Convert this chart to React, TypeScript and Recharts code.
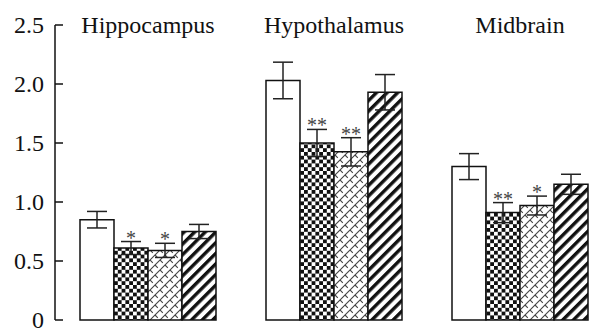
import { BarChart, Bar, XAxis, YAxis, ErrorBar, LabelList } from "recharts";

const regions = ["Hippocampus", "Hypothalamus", "Midbrain"];

const control = [0.85, 2.03, 1.3];
const controlErr = [0.07, 0.155, 0.11];
const checkered = [0.61, 1.5, 0.91];
const checkeredErr = [0.055, 0.115, 0.085];
const lattice = [0.59, 1.425, 0.97];
const latticeErr = [0.06, 0.12, 0.08];
const striped = [0.75, 1.93, 1.15];
const stripedErr = [0.06, 0.15, 0.085];

const checkeredStars = ["*", "**", "**"];
const latticeStars = ["*", "**", "*"];

const yTicks = [0, 0.5, 1.0, 1.5, 2.0, 2.5];

const data = regions.map((name, i) => ({
  name,
  control: control[i],
  controlErr: controlErr[i],
  checkered: checkered[i],
  checkeredErr: checkeredErr[i],
  lattice: lattice[i],
  latticeErr: latticeErr[i],
  striped: striped[i],
  stripedErr: stripedErr[i],
}));

const FONT = "Liberation Serif, Times New Roman, serif";

const YTick = ({ x, y, payload }: any) => (
  <g>
    <line x1={x + 11} x2={x + 19} y1={y} y2={y} stroke="#111" strokeWidth={1.5} />
    <text x={x} y={y} dy="0.33em" textAnchor="end" style={{ fontFamily: FONT, fontSize: 24 }} fill="#111">
      {payload.value === 0 ? "0" : payload.value.toFixed(1)}
    </text>
  </g>
);

const TopTick = ({ x, y, payload }: any) => (
  <text x={x} y={y} dy="0.33em" textAnchor="middle" style={{ fontFamily: FONT, fontSize: 24 }} fill="#111">
    {payload.value}
  </text>
);

// asterisks sit just above the upper whisker
const stars = (marks: string[], errs: number[]) => (props: any) => {
  const { x, y, width, height, value, index } = props;
  const mark = marks[index];
  if (!mark) return null;
  const errTop = y - (errs[index] * height) / value;
  return (
    <text x={x + width / 2} y={errTop + 3} textAnchor="middle" style={{ fontFamily: FONT, fontSize: 20 }} fill="#444">
      {mark}
    </text>
  );
};

const err = (key: string) => (
  <ErrorBar dataKey={key} width={10} stroke="#222" strokeWidth={1.5} direction="y" />
);

export default function App() {
  return (
    <div style={{ position: "absolute", left: 0, top: 0, width: 605, height: 329, overflow: "hidden", background: "#fff" }}>
      <svg width={0} height={0} style={{ position: "absolute" }}>
        <defs>
          <pattern id="checker" patternUnits="userSpaceOnUse" width={7.6} height={7.6}>
            <rect width={7.6} height={7.6} fill="#fff" />
            <rect width={3.8} height={3.8} fill="#111" />
            <rect x={3.8} y={3.8} width={3.8} height={3.8} fill="#111" />
          </pattern>
          <pattern id="lattice" patternUnits="userSpaceOnUse" width={10} height={10}>
            <rect width={10} height={10} fill="#fff" />
            <path d="M0,10 L10,0 M-2,2 L2,-2 M8,12 L12,8" stroke="#444" strokeWidth={1.1} />
            <path d="M0,0 L5,5 M5,5 L10,10" stroke="#444" strokeWidth={1.1} strokeDasharray="4 3" />
          </pattern>
          <pattern id="stripes" patternUnits="userSpaceOnUse" width={7.5} height={7.5} patternTransform="rotate(45)">
            <rect width={7.5} height={7.5} fill="#fff" />
            <rect width={3.4} height={7.5} fill="#111" />
          </pattern>
        </defs>
      </svg>
      <BarChart
        width={613}
        height={329}
        data={data}
        margin={{ top: 0, right: 0, bottom: 9, left: 0 }}
        barCategoryGap={25}
        barGap={0}
      >
        <XAxis dataKey="name" height={0} tick={false} tickLine={false} axisLine={{ stroke: "#111", strokeWidth: 1.5 }} />
        <XAxis
          xAxisId="top"
          dataKey="name"
          orientation="top"
          height={25}
          tickSize={0}
          tickMargin={0}
          axisLine={false}
          tickLine={false}
          tick={<TopTick />}
        />
        <YAxis
          domain={[0, 2.5]}
          ticks={yTicks}
          width={55}
          tickSize={0}
          tickMargin={11}
          tickLine={false}
          axisLine={{ stroke: "#111", strokeWidth: 1.5 }}
          tick={<YTick />}
        />
        <Bar dataKey="control" fill="#fff" stroke="#111" strokeWidth={1.5} isAnimationActive={false}>
          {err("controlErr")}
        </Bar>
        <Bar dataKey="checkered" fill="url(#checker)" stroke="#111" strokeWidth={1.5} isAnimationActive={false}>
          {err("checkeredErr")}
          <LabelList dataKey="checkered" content={stars(checkeredStars, checkeredErr)} />
        </Bar>
        <Bar dataKey="lattice" fill="url(#lattice)" stroke="#111" strokeWidth={1.5} isAnimationActive={false}>
          {err("latticeErr")}
          <LabelList dataKey="lattice" content={stars(latticeStars, latticeErr)} />
        </Bar>
        <Bar dataKey="striped" fill="url(#stripes)" stroke="#111" strokeWidth={1.5} isAnimationActive={false}>
          {err("stripedErr")}
        </Bar>
      </BarChart>
    </div>
  );
}
